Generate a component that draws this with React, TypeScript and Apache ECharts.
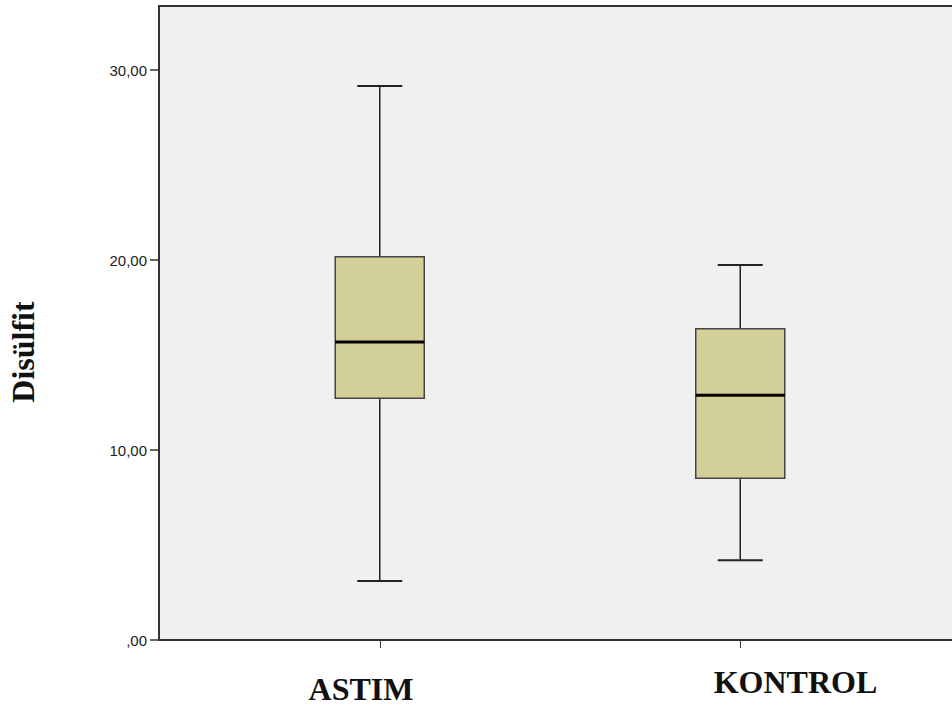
import React, { useEffect, useRef } from "react";
import * as echarts from "echarts";

const categories = ["ASTIM", "KONTROL"];
const minValues = [3.1, 4.2];
const q1Values = [12.72, 8.51];
const medianValues = [15.68, 12.88];
const q3Values = [20.17, 16.38];
const maxValues = [29.16, 19.74];
const yTicks = [0, 10, 20, 30];
const yTitle = "Disülfit";

const fmt = (v: number) => {
  const s = v.toFixed(2).replace(".", ",");
  return s.startsWith("0") ? s.slice(1) : s;
};

export default function App() {
  const ref = useRef<HTMLDivElement>(null);
  useEffect(() => {
    if (!ref.current) return;
    const chart = echarts.init(ref.current, null, { renderer: "svg" });
    const data = categories.map((c, i) => [
      i,
      minValues[i],
      q1Values[i],
      medianValues[i],
      q3Values[i],
      maxValues[i],
    ]);
    const labelPos = [
      { x: 361, y: 689 },
      { x: 795.5, y: 682 },
    ];
    chart.setOption({
      animation: false,
      backgroundColor: "#ffffff",
      grid: { left: 199.5, right: 31.5, top: 6, bottom: 68 },
      xAxis: {
        type: "category",
        data: categories,
        axisLine: { show: false },
        axisTick: {
          show: true,
          alignWithLabel: true,
          interval: 0,
          length: 8,
          lineStyle: { color: "#333", width: 1 },
        },
        axisLabel: { show: false },
        splitLine: { show: false },
      },
      yAxis: {
        type: "value",
        min: 0,
        max: 634 / 19,
        offset: 40.5,
        axisLine: { show: false },
        axisTick: {
          show: true,
          length: 9,
          customValues: yTicks,
          lineStyle: { color: "#333", width: 1.5 },
        },
        axisLabel: {
          customValues: yTicks,
          formatter: (v: number) => fmt(v),
          fontFamily: "Liberation Sans",
          fontSize: 15,
          color: "#222",
          margin: 12,
        },
        splitLine: { show: false },
      },
      graphic: {
        elements: [
          {
            type: "rect",
            z: -10,
            shape: { x: 159, y: 6, width: 900, height: 634 },
            style: { fill: "#f0f0f0", stroke: "#333", lineWidth: 2 },
          },
          ...categories.map((c, i) => ({
            type: "text",
            x: labelPos[i].x,
            y: labelPos[i].y,
            style: {
              text: c,
              fontFamily: "Liberation Serif",
              fontWeight: "bold",
              fontSize: 32,
              fill: "#111",
              align: "center",
              verticalAlign: "middle",
            },
          })),
          {
            type: "text",
            x: 22.5,
            y: 352,
            rotation: Math.PI / 2,
            style: {
              text: yTitle,
              fontFamily: "Liberation Serif",
              fontWeight: "bold",
              fontSize: 32,
              fill: "#111",
              align: "center",
              verticalAlign: "middle",
            },
          },
        ],
      },
      series: [
        {
          type: "custom",
          data,
          encode: { x: 0, y: [1, 2, 3, 4, 5] },
          renderItem: (params: any, api: any) => {
            const cx = api.coord([api.value(0), 0])[0];
            const yOf = (d: number) => api.coord([api.value(0), api.value(d)])[1];
            const yMin = yOf(1);
            const yQ1 = yOf(2);
            const yMed = yOf(3);
            const yQ3 = yOf(4);
            const yMax = yOf(5);
            const bw = 89;
            const cw = 45;
            const whisker = { stroke: "#222", lineWidth: 1.5 };
            const cap = { stroke: "#222", lineWidth: 2 };
            return {
              type: "group",
              children: [
                { type: "line", shape: { x1: cx, y1: yMax, x2: cx, y2: yQ3 }, style: whisker },
                { type: "line", shape: { x1: cx, y1: yQ1, x2: cx, y2: yMin }, style: whisker },
                { type: "line", shape: { x1: cx - cw / 2, y1: yMax, x2: cx + cw / 2, y2: yMax }, style: cap },
                { type: "line", shape: { x1: cx - cw / 2, y1: yMin, x2: cx + cw / 2, y2: yMin }, style: cap },
                {
                  type: "rect",
                  shape: { x: cx - bw / 2, y: yQ3, width: bw, height: yQ1 - yQ3 },
                  style: { fill: "#d3cf99", stroke: "#444", lineWidth: 1.5 },
                },
                {
                  type: "line",
                  shape: { x1: cx - bw / 2, y1: yMed, x2: cx + bw / 2, y2: yMed },
                  style: { stroke: "#000", lineWidth: 3 },
                },
              ],
            };
          },
        },
      ],
    });
    return () => chart.dispose();
  }, []);
  return (
    <div
      ref={ref}
      style={{ position: "fixed", left: 0, top: 0, width: 952, height: 708 }}
    />
  );
}
